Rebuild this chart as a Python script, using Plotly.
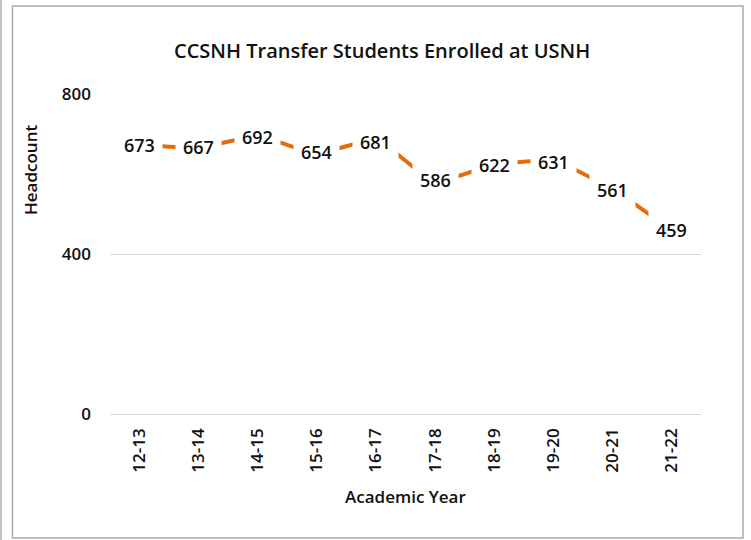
import plotly.graph_objects as go

years = ["12-13", "13-14", "14-15", "15-16", "16-17", "17-18", "18-19", "19-20", "20-21", "21-22"]
headcount = [673, 667, 692, 654, 681, 586, 622, 631, 561, 459]
y_ticks = [0, 400, 800]

FONT = "Open Sans"
ORANGE = "#E46C0A"
TXT = "#111111"

fig = go.Figure()
fig.add_trace(go.Scatter(
    x=years, y=headcount, mode="lines",
    line=dict(color=ORANGE, width=4, shape="spline", smoothing=0.8),
    hoverinfo="skip", showlegend=False,
))

annotations = []
for yr, v in zip(years, headcount):
    annotations.append(dict(
        x=yr, y=v, xref="x", yref="y", text=str(v), showarrow=False,
        bgcolor="white", borderpad=7,
        font=dict(family=FONT, size=18, color=TXT, weight=600),
        xanchor="center", yanchor="middle",
    ))

annotations.append(dict(
    text="Headcount", xref="paper", yref="paper", x=-0.1354, y=0.7625,
    textangle=-90, showarrow=False, xanchor="center", yanchor="middle",
    font=dict(family=FONT, size=17, color=TXT, weight=600),
))
annotations.append(dict(
    text="Academic Year", xref="paper", yref="paper", x=0.5, y=-0.259,
    showarrow=False, xanchor="center", yanchor="middle",
    font=dict(family=FONT, size=17, color=TXT, weight=600),
))
annotations.append(dict(
    text="CCSNH Transfer Students Enrolled at USNH", xref="paper", yref="paper",
    x=0.460, y=1.1375, showarrow=False, xanchor="center", yanchor="middle",
    font=dict(family=FONT, size=20, color=TXT, weight=600),
))

shapes = [
    dict(type="rect", xref="paper", yref="paper", x0=-0.1650, x1=1.0711,
         y0=-0.3875, y1=1.275, line=dict(color="#A8A8A8", width=1.5),
         fillcolor="rgba(0,0,0,0)", layer="below"),
    dict(type="line", xref="paper", yref="paper", x0=-0.1844, x1=-0.1844,
         y0=-0.40, y1=1.30, line=dict(color="#B0B0B0", width=1.5)),
]

fig.update_layout(
    width=751, height=540,
    margin=dict(l=110, r=50, t=94, b=126),
    paper_bgcolor="white", plot_bgcolor="white",
    annotations=annotations, shapes=shapes,
    font=dict(family=FONT, color=TXT),
    xaxis=dict(
        type="category", range=[-0.5, 9.5], showgrid=False, showline=False,
        zeroline=False, tickangle=-90, ticks="", ticklabelstandoff=10,
        tickfont=dict(family=FONT, size=17, color=TXT, weight=600),
    ),
    yaxis=dict(
        range=[0, 800], tickvals=y_ticks, showgrid=True, gridcolor="#D9D9D9",
        gridwidth=1, zeroline=True, zerolinecolor="#D9D9D9", zerolinewidth=1,
        showline=False, ticks="", ticklabelstandoff=18,
        tickfont=dict(family=FONT, size=17, color=TXT, weight=600),
    ),
)

fig.write_html(
    "out.html",
    config={"displayModeBar": False},
    post_script="document.body.style.margin='0px';",
)
